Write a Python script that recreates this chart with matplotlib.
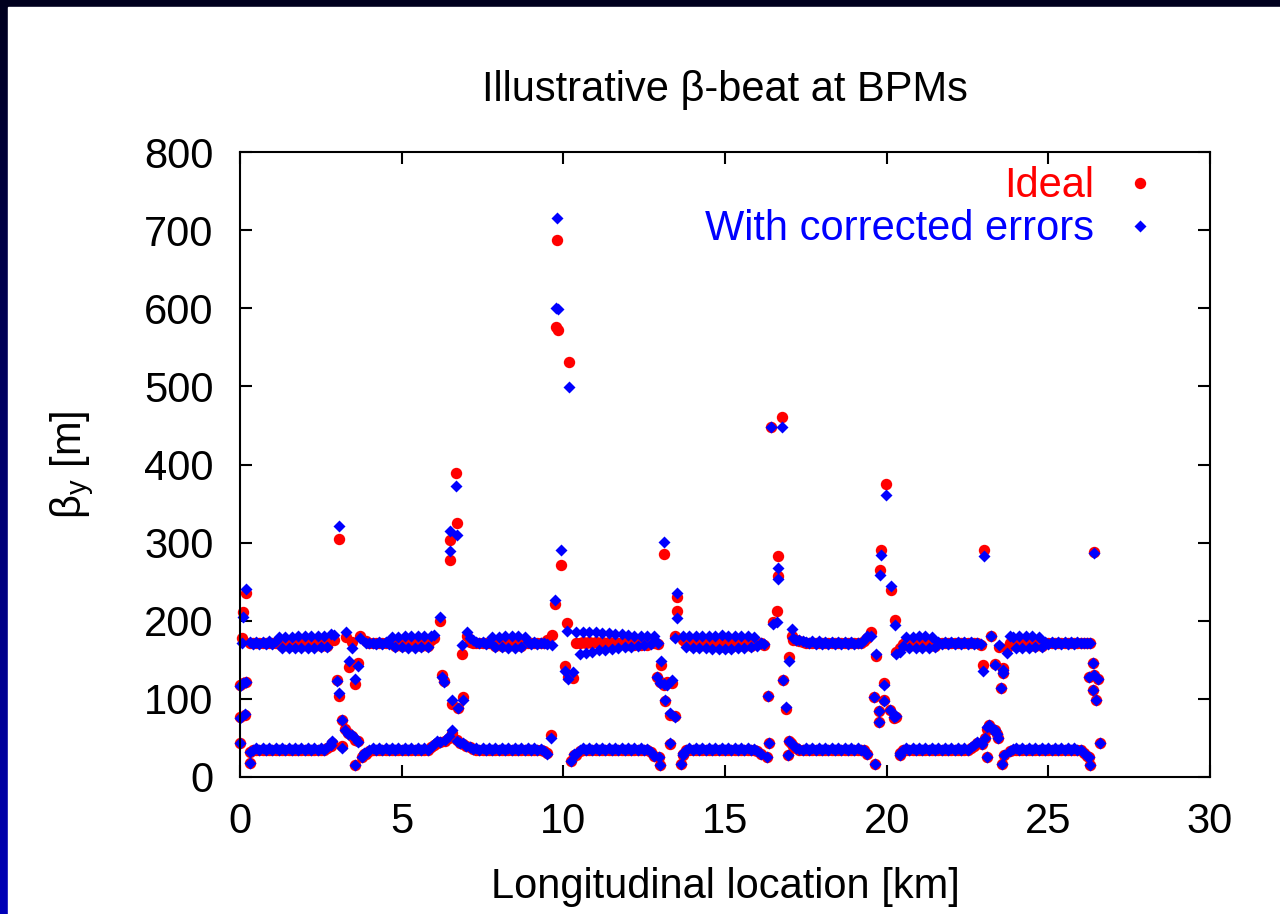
import numpy as np
import matplotlib
matplotlib.use("Agg")
import matplotlib.pyplot as plt
from matplotlib.colors import LinearSegmentedColormap
from matplotlib.patches import Rectangle

plt.rcParams['font.family'] = ['Liberation Sans', 'DejaVu Sans']

# arc BPMs: position [km] and beta_y [m] on the upper and lower band
arc_x = [
    0.3, 0.4, 0.5, 0.6, 0.7, 0.8, 0.9, 1.0, 1.1, 1.2, 1.3, 1.4, 1.5, 1.6, 1.7, 1.8, 1.9, 2.0, 2.1, 2.2, 2.3, 2.4, 2.5, 2.6, 2.7, 2.8,
    3.9, 4.0, 4.1, 4.2, 4.3, 4.4, 4.5, 4.6, 4.7, 4.8, 4.9, 5.0, 5.1, 5.2, 5.3, 5.4, 5.5, 5.6, 5.7, 5.8, 5.9, 6.0,
    7.1, 7.2, 7.3, 7.4, 7.5, 7.6, 7.7, 7.8, 7.9, 8.0, 8.1, 8.2, 8.3, 8.4, 8.5, 8.6, 8.7, 8.8, 8.9, 9.0, 9.1, 9.2, 9.3, 9.4, 9.5,
    10.4, 10.5, 10.6, 10.7, 10.8, 10.9, 11.0, 11.1, 11.2, 11.3, 11.4, 11.5, 11.6, 11.7, 11.8, 11.9, 12.0, 12.1, 12.2, 12.3, 12.4, 12.5, 12.6, 12.7, 12.8,
    13.7, 13.8, 13.9, 14.0, 14.1, 14.2, 14.3, 14.4, 14.5, 14.6, 14.7, 14.8, 14.9, 15.0, 15.1, 15.2, 15.3, 15.4, 15.5, 15.6, 15.7, 15.8, 15.9, 16.0, 16.1,
    17.1, 17.2, 17.3, 17.4, 17.5, 17.6, 17.7, 17.8, 17.9, 18.0, 18.1, 18.2, 18.3, 18.4, 18.5, 18.6, 18.7, 18.8, 18.9, 19.0, 19.1, 19.2, 19.3, 19.4,
    20.4, 20.5, 20.6, 20.7, 20.8, 20.9, 21.0, 21.1, 21.2, 21.3, 21.4, 21.5, 21.6, 21.7, 21.8, 21.9, 22.0, 22.1, 22.2, 22.3, 22.4, 22.5, 22.6, 22.7, 22.8,
    23.8, 23.9, 24.0, 24.1, 24.2, 24.3, 24.4, 24.5, 24.6, 24.7, 24.8, 24.9, 25.0, 25.1, 25.2, 25.3, 25.4, 25.5, 25.6, 25.7, 25.8, 25.9, 26.0, 26.1, 26.2,
]
arc_hi_ideal = [
    172, 171, 172, 171, 172, 171, 172, 171, 172, 174, 168, 174, 168, 174, 168, 174, 168, 174, 168, 174, 168, 174, 168, 174, 168, 175,
    174, 172, 172, 171, 172, 171, 172, 171, 174, 168, 174, 168, 174, 168, 174, 168, 174, 168, 174, 168, 175, 178,
    173, 172, 172, 171, 172, 171, 172, 174, 168, 174, 168, 174, 168, 174, 168, 174, 168, 174, 172, 171, 172, 171, 172, 172, 175,
    172, 172, 173, 172, 173, 172, 173, 172, 173, 172, 173, 172, 173, 172, 171, 174, 169, 174, 169, 174, 169, 174, 169, 173, 171,
    176, 172, 174, 168, 174, 168, 174, 168, 174, 168, 175, 167, 175, 167, 175, 167, 175, 168, 174, 168, 174, 168, 174, 170, 172,
    176, 175, 174, 173, 172, 172, 172, 171, 172, 171, 172, 171, 172, 171, 172, 171, 172, 171, 172, 171, 172, 172, 174, 178,
    165, 170, 174, 168, 174, 168, 174, 168, 174, 168, 174, 168, 172, 171, 172, 171, 172, 171, 172, 171, 172, 171, 172, 171, 172,
    172, 174, 168, 174, 168, 174, 168, 174, 168, 174, 168, 172, 171, 172, 171, 172, 171, 172, 171, 172, 171, 172, 171, 172, 172,
]
arc_hi_err = [
    173, 170, 173, 170, 173, 170, 174, 170, 174, 179, 165, 179, 165, 179, 165, 180, 165, 180, 165, 180, 165, 180, 166, 181, 167, 183,
    172, 171, 172, 170, 173, 170, 173, 170, 179, 166, 179, 166, 180, 165, 180, 165, 180, 166, 180, 166, 180, 182,
    178, 175, 173, 171, 173, 170, 173, 179, 166, 179, 166, 180, 165, 180, 165, 180, 166, 179, 173, 170, 173, 170, 172, 171, 170,
    186, 157, 186, 159, 185, 160, 185, 162, 184, 163, 184, 164, 183, 165, 183, 166, 182, 167, 181, 168, 181, 169, 180, 170, 180,
    180, 166, 180, 165, 180, 165, 181, 165, 181, 164, 181, 164, 182, 164, 181, 164, 181, 165, 180, 165, 180, 166, 179, 168, 172,
    178, 176, 175, 174, 173, 172, 174, 170, 174, 170, 173, 170, 173, 170, 173, 170, 173, 170, 173, 170, 172, 172, 175, 181,
    160, 168, 179, 165, 179, 165, 180, 165, 180, 165, 179, 166, 173, 170, 173, 170, 173, 170, 173, 170, 173, 170, 173, 170, 172,
    181, 179, 165, 180, 165, 180, 165, 180, 166, 179, 166, 173, 170, 173, 170, 173, 170, 173, 170, 173, 170, 173, 171, 172, 172,
]
arc_lo_ideal = [
    32, 34, 35, 35, 35, 35, 35, 35, 35, 35, 35, 35, 35, 35, 35, 35, 35, 35, 35, 35, 35, 35, 35, 35, 37, 40,
    30, 33, 35, 35, 35, 35, 35, 35, 35, 35, 35, 35, 35, 35, 35, 35, 35, 35, 35, 35, 38, 41,
    38, 36, 35, 35, 35, 35, 35, 35, 35, 35, 35, 35, 35, 35, 35, 35, 35, 35, 35, 35, 35, 35, 35, 33, 31,
    28, 33, 35, 35, 35, 35, 35, 35, 35, 35, 35, 35, 35, 35, 35, 35, 35, 35, 35, 35, 35, 35, 35, 32, 27,
    30, 34, 35, 35, 35, 35, 35, 35, 35, 35, 35, 35, 35, 35, 35, 35, 35, 35, 35, 35, 35, 35, 35, 33, 30,
    40, 37, 35, 35, 35, 35, 35, 35, 35, 35, 35, 35, 35, 35, 35, 35, 35, 35, 35, 35, 35, 35, 34, 30,
    31, 34, 35, 35, 35, 35, 35, 35, 35, 35, 35, 35, 35, 35, 35, 35, 35, 35, 35, 35, 35, 35, 37, 40, 44,
    33, 35, 35, 35, 35, 35, 35, 35, 35, 35, 35, 35, 35, 35, 35, 35, 35, 35, 35, 35, 35, 35, 34, 31, 27,
]
arc_lo_err = [
    32, 35, 37, 34, 37, 34, 37, 34, 37, 34, 37, 34, 37, 34, 37, 34, 37, 34, 37, 34, 37, 34, 37, 34, 38, 41,
    31, 34, 37, 34, 37, 34, 37, 34, 37, 34, 37, 34, 37, 34, 37, 34, 37, 34, 37, 35, 39, 42,
    39, 36, 37, 34, 37, 34, 37, 34, 37, 34, 37, 34, 37, 34, 37, 34, 37, 34, 37, 34, 37, 34, 36, 33, 30,
    29, 34, 37, 34, 37, 34, 37, 34, 37, 34, 37, 34, 37, 34, 37, 34, 37, 34, 37, 34, 37, 34, 36, 32, 27,
    31, 35, 37, 34, 37, 34, 37, 34, 37, 34, 37, 34, 37, 34, 37, 34, 37, 34, 37, 34, 37, 34, 36, 33, 30,
    41, 37, 36, 34, 37, 34, 37, 34, 37, 34, 37, 34, 37, 34, 37, 34, 37, 34, 37, 34, 37, 34, 34, 30,
    31, 35, 37, 34, 37, 34, 37, 34, 37, 34, 37, 34, 37, 34, 37, 34, 37, 34, 37, 34, 37, 35, 38, 41, 45,
    33, 36, 37, 34, 37, 34, 37, 34, 37, 34, 37, 34, 37, 34, 37, 34, 37, 34, 37, 34, 37, 35, 34, 31, 27,
]

# BPMs in the straight sections (insertion regions)
ir_x = [
    0.0, 0.0, 0.15, 0.0, 0.1, 0.2, 0.05, 0.1, 0.2, 0.3,
    2.9, 3.05, 3.0, 3.05, 3.28, 3.46, 3.72, 3.36, 3.65, 3.57, 2.85, 3.15, 3.25, 3.35, 3.45, 3.55, 3.65, 3.15, 3.55, 3.78, 3.85,
    6.19, 6.25, 6.3, 6.55, 6.75, 6.91, 6.1, 6.2, 6.35, 6.45, 6.57, 6.7, 6.8, 6.9, 7.0, 6.86, 7.01, 6.48, 6.48, 6.72, 6.68,
    9.64, 9.74, 9.92, 10.1, 10.05, 10.15, 10.3, 9.61, 9.8, 9.78, 9.82, 10.18, 10.25, 10.32,
    12.93, 13.1, 13.03, 12.9, 13.0, 13.1, 13.2, 13.35, 13.14, 13.3, 13.45, 13.29, 13.65, 12.95, 12.98, 13.45, 13.5, 13.52, 13.7,
    16.2, 16.32, 16.36, 16.29, 16.47, 16.6, 16.63, 16.64, 16.79, 16.89, 16.97, 16.94, 16.99, 17.05, 17.07, 16.42, 16.75,
    19.52, 19.67, 19.98, 19.83, 19.8, 20.14, 20.27, 20.29, 19.62, 19.75, 19.75, 19.93, 19.93, 20.1, 20.24, 20.3, 19.65, 20.4,
    22.91, 23.01, 23.24, 23.46, 23.73, 22.98, 23.34, 23.61, 23.6, 23.55, 22.95, 23.05, 23.1, 23.15, 23.25, 23.35, 23.4, 23.45, 23.11, 23.58, 23.64,
    26.29, 26.42, 26.37, 26.27, 26.42, 26.55, 26.37, 26.47, 26.6, 26.25, 26.29,
]
ir_ideal = [
    44, 77, 80, 118, 120, 122, 178, 211, 235, 18,
    175, 305, 124, 104, 179, 173, 180, 141, 146, 119, 44, 73, 62, 56, 52, 48, 46, 40, 15, 26, 30,
    200, 130, 123, 94, 88, 103, 44, 45, 46, 50, 56, 47, 44, 42, 40, 158, 181, 303, 278, 325, 389,
    182, 222, 272, 197, 142, 128, 127, 54, 687, 576, 572, 531, 20, 28,
    170, 285, 144, 128, 122, 118, 121, 120, 97, 80, 78, 42, 17, 25, 15, 180, 212, 231, 28,
    169, 104, 43, 26, 198, 212, 283, 257, 124, 87, 154, 28, 46, 43, 180, 448, 461,
    186, 155, 375, 291, 265, 240, 201, 160, 103, 85, 70, 120, 98, 86, 75, 77, 17, 28,
    169, 290, 180, 167, 165, 143, 145, 140, 133, 114, 42, 50, 62, 67, 62, 60, 55, 50, 26, 17, 28,
    171, 288, 146, 128, 130, 126, 111, 98, 44, 26, 15,
]
ir_err = [
    44, 76, 81, 117, 120, 121, 171, 205, 241, 18,
    182, 321, 123, 107, 186, 165, 178, 148, 142, 125, 46, 73, 60, 55, 54, 50, 45, 37, 15, 26, 31,
    205, 128, 122, 98, 88, 99, 46, 45, 47, 52, 60, 46, 44, 43, 40, 169, 185, 315, 289, 310, 372,
    169, 226, 290, 187, 136, 125, 135, 50, 715, 600, 599, 499, 20, 29,
    172, 301, 148, 128, 120, 119, 118, 124, 99, 82, 77, 43, 17, 25, 16, 178, 203, 235, 28,
    170, 104, 43, 26, 196, 199, 268, 254, 124, 90, 149, 28, 46, 43, 190, 448, 448,
    180, 158, 361, 284, 258, 244, 195, 158, 103, 85, 70, 118, 97, 86, 77, 78, 17, 28,
    170, 283, 180, 169, 159, 136, 144, 133, 137, 114, 42, 50, 64, 67, 62, 60, 55, 50, 26, 17, 28,
    171, 287, 146, 128, 131, 126, 111, 98, 44, 26, 15,
]

x_all = arc_x + arc_x + ir_x
ideal = arc_hi_ideal + arc_lo_ideal + ir_ideal
with_err = arc_hi_err + arc_lo_err + ir_err

fig = plt.figure(figsize=(12.8, 9.14), dpi=100)

# dark blue slide frame behind a white panel
bg = fig.add_axes([0, 0, 1, 1])
frame_cmap = LinearSegmentedColormap.from_list('frame', ['#00001e', '#0000b8'])
bg.imshow(np.linspace(0, 1, 256).reshape(-1, 1), cmap=frame_cmap, aspect='auto', extent=[0, 1, 0, 1])
bg.add_patch(Rectangle((8 / 1280, 0), 1, 1 - 7 / 914, color='white'))
bg.set_xlim(0, 1)
bg.set_ylim(0, 1)
bg.axis('off')

ax = fig.add_axes([240 / 1280, 1 - 777 / 914, 970 / 1280, 625 / 914])
ax.plot(x_all, ideal, 'o', color='#ff0000', ms=8.2, mec='none', clip_on=False, label='Ideal')
ax.plot(x_all, with_err, 'D', color='#0000ff', ms=6.0, mec='none', clip_on=False, label='With corrected errors')

ax.set_xlim(0, 30)
ax.set_ylim(0, 800)
ax.set_xticks(range(0, 31, 5))
ax.set_yticks(range(0, 801, 100))
ax.tick_params(direction='in', length=8.5, width=1.5, top=True, right=True, labelsize=30)
ax.tick_params(axis='y', pad=19)
ax.tick_params(axis='x', pad=18)
for sp in ax.spines.values():
    sp.set_linewidth(1.5)

ax.set_title('Illustrative β-beat at BPMs', fontsize=30, pad=37)
ax.set_xlabel('Longitudinal location [km]', fontsize=30, labelpad=18)
ax.set_ylabel('β$_\\mathregular{y}$ [m]', fontsize=30, labelpad=35)

ax.legend(loc='upper right', bbox_to_anchor=(0.979, 1.024), markerfirst=False, frameon=False,
          fontsize=30, labelcolor='linecolor', handlelength=1.0, handletextpad=0.6,
          labelspacing=0.07, borderaxespad=0.3)

fig.savefig('out.png', dpi=100)
